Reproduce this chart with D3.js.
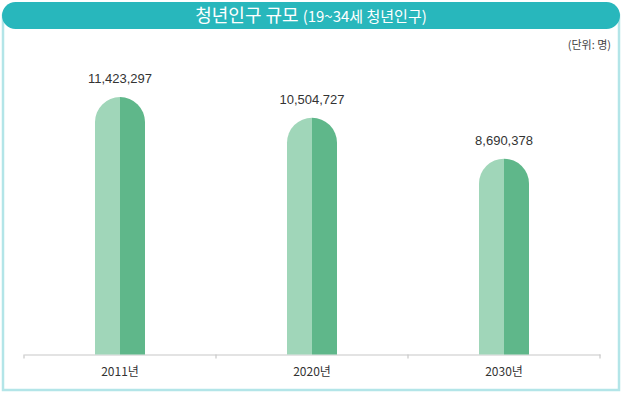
<!DOCTYPE html>
<html>
<head>
<meta charset="utf-8">
<script src="https://cdn.jsdelivr.net/npm/d3@7"></script>
<style>
  html, body { margin: 0; padding: 0; background: #fff; }
  svg { display: block; }
</style>
</head>
<body>
<div id="chart"></div>
<script>
  // data
  let years = ['2011년', '2020년', '2030년'];
  let population = [11423297, 10504727, 8690378];
  let valueLabels = ['11,423,297', '10,504,727', '8,690,378'];

  let width = 622;
  let height = 394;
  let base = 354.5;
  let barW = 50;

  let svg = d3.select('#chart')
    .append('svg')
    .attr('width', width)
    .attr('height', height);

  let font = "'Noto Sans CJK KR', 'Noto Sans', sans-serif";

  // frame
  svg.append('rect')
    .attr('x', 3)
    .attr('y', 15)
    .attr('width', 616)
    .attr('height', 375)
    .attr('fill', '#fff')
    .attr('stroke', '#b3e5e8')
    .attr('stroke-width', 2.5);

  // title bar
  svg.append('rect')
    .attr('x', 2)
    .attr('y', 2)
    .attr('width', 618)
    .attr('height', 27)
    .attr('rx', 13.5)
    .attr('fill', '#28b7bc');

  let title = svg.append('text')
    .attr('x', 311)
    .attr('y', 21.5)
    .attr('text-anchor', 'middle')
    .attr('fill', '#fff')
    .style('font-family', font)
    .style('font-weight', 400);
  title.append('tspan').style('font-size', '18px').text('청년인구 규모 ');
  title.append('tspan').style('font-size', '15px').text('(19~34세 청년인구)');

  svg.append('text')
    .attr('x', 611)
    .attr('y', 49)
    .attr('text-anchor', 'end')
    .attr('fill', '#444')
    .style('font-family', font)
    .style('font-size', '11px')
    .text('(단위: 명)');

  let x = d3.scaleBand().domain(years).range([24, 600]);
  let y = d3.scaleLinear().domain([0, 14000000]).range([base, 39]);

  // axis
  let axis = svg.append('g')
    .attr('transform', `translate(0,${base})`)
    .call(d3.axisBottom(x).tickSize(0).tickPadding(0).tickFormat(''));
  axis.select('.domain').attr('stroke', '#c8c8c8').attr('stroke-width', 1.2);
  let edges = [24].concat(years.map(d => x(d) + x.bandwidth()));
  axis.selectAll('.edge')
    .data(edges)
    .enter().append('line')
    .attr('class', 'edge')
    .attr('x1', d => d).attr('x2', d => d)
    .attr('y1', 0).attr('y2', 4)
    .attr('stroke', '#c8c8c8')
    .attr('stroke-width', 1.2);

  svg.selectAll('.cat')
    .data(years)
    .enter().append('text')
    .attr('class', 'cat')
    .attr('x', d => x(d) + x.bandwidth() / 2)
    .attr('y', 376)
    .attr('text-anchor', 'middle')
    .attr('fill', '#333')
    .style('font-family', font)
    .style('font-size', '12px')
    .text(d => d);

  // bars: two halves with a rounded top
  function half(cx, top, side) {
    let r = barW / 2;
    let p = d3.path();
    let xe = cx + side * r;
    p.moveTo(cx, base);
    p.lineTo(xe, base);
    p.lineTo(xe, top + r);
    if (side < 0) p.arc(cx, top + r, r, Math.PI, 1.5 * Math.PI);
    else p.arc(cx, top + r, r, 0, -0.5 * Math.PI, true);
    p.closePath();
    return p.toString();
  }

  let bars = svg.selectAll('.bar')
    .data(years.map((d, i) => ({ year: d, value: population[i], label: valueLabels[i] })))
    .enter().append('g')
    .attr('class', 'bar');

  bars.append('path')
    .attr('d', d => half(x(d.year) + x.bandwidth() / 2, y(d.value), -1))
    .attr('fill', '#a0d6b9');
  bars.append('path')
    .attr('d', d => half(x(d.year) + x.bandwidth() / 2, y(d.value), 1))
    .attr('fill', '#5fb78a');

  bars.append('text')
    .attr('x', d => x(d.year) + x.bandwidth() / 2)
    .attr('y', d => y(d.value) - 14)
    .attr('text-anchor', 'middle')
    .attr('fill', '#333')
    .style('font-family', "'Liberation Sans', Arial, sans-serif")
    .style('font-size', '13px')
    .text(d => d.label);
</script>
</body>
</html>
